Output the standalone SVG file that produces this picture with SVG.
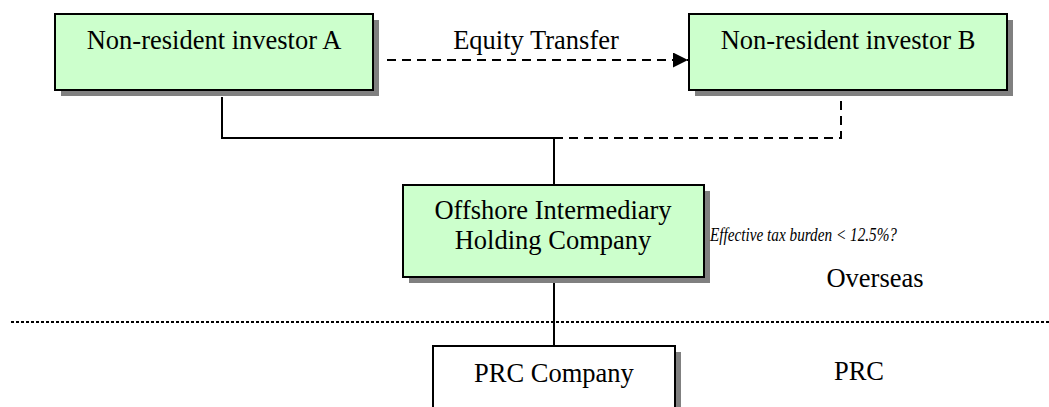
<svg xmlns="http://www.w3.org/2000/svg" width="1049" height="407" viewBox="0 0 1049 407">
<style>
.box{fill:#ccffcc;stroke:#000;stroke-width:2}
.wbox{fill:#fff;stroke:#000;stroke-width:2}
.sh{fill:#808080}
.t{font-family:"Liberation Serif","Times New Roman",serif;font-size:26.5px;fill:#000;text-anchor:middle}
.it{font-family:"Liberation Serif","Times New Roman",serif;font-size:18px;font-style:italic;fill:#000}
.solid{fill:none;stroke:#000;stroke-width:2}
.dash{fill:none;stroke:#000;stroke-width:2;stroke-dasharray:9 6}
.dot{fill:none;stroke:#000;stroke-width:2;stroke-dasharray:3 2}
</style>
<defs>
<marker id="arr" markerWidth="16" markerHeight="16" refX="15" refY="7.5" orient="auto" markerUnits="userSpaceOnUse">
<path d="M0,0 L15,7.5 L0,15 Z" fill="#000"/>
</marker>
</defs>
<rect width="1049" height="407" fill="#fff"/>
<g id="connectors">
<path class="solid" d="M222,97 V138 H554 V185"/>
<path class="dash" d="M554,138 H841 V97"/>
<path class="dash" d="M387,60 H688" marker-end="url(#arr)"/>
<path class="solid" d="M554,283 V346"/>
<path class="dot" d="M11,322 H1049"/>
</g>
<g id="investorA">
<rect class="sh" x="61" y="20" width="318" height="76"/>
<rect class="box" x="55" y="14" width="318" height="76"/>
<text class="t" x="214" y="49">Non-resident investor A</text>
</g>
<g id="investorB">
<rect class="sh" x="695" y="20" width="318" height="76"/>
<rect class="box" x="689" y="14" width="318" height="76"/>
<text class="t" x="848" y="49">Non-resident investor B</text>
</g>
<g id="equityTransferLabel">
<text class="t" x="536" y="49">Equity Transfer</text>
</g>
<g id="offshore">
<rect class="sh" x="409" y="191" width="301" height="92"/>
<rect class="box" x="403" y="185" width="301" height="92"/>
<text class="t" x="553" y="219">Offshore Intermediary</text>
<text class="t" x="553" y="249">Holding Company</text>
</g>
<g id="taxNote">
<text class="it" x="710" y="241" textLength="187" lengthAdjust="spacingAndGlyphs">Effective tax burden &lt; 12.5%?</text>
</g>
<g id="overseasLabel">
<text class="t" x="875" y="287">Overseas</text>
</g>
<g id="prcCompany">
<rect class="sh" x="439" y="352" width="242" height="70"/>
<rect class="wbox" x="433" y="346" width="242" height="70"/>
<text class="t" x="554" y="382">PRC Company</text>
</g>
<g id="prcLabel">
<text class="t" x="859" y="380">PRC</text>
</g>
</svg>
